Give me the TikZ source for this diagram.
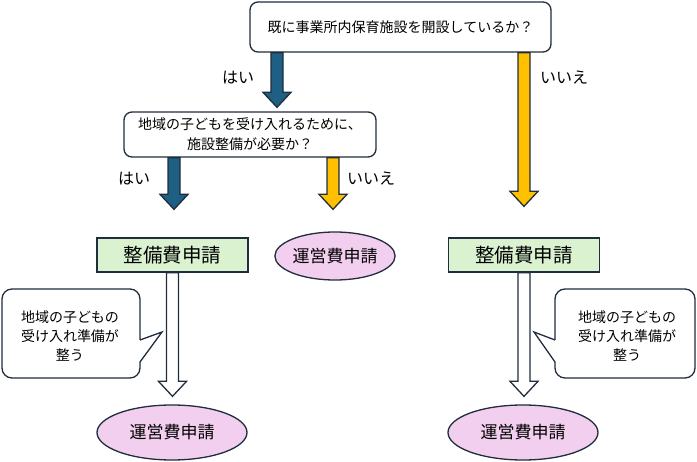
\documentclass[tikz,border=0pt]{standalone}
\usepackage{fontspec}
\setmainfont{Noto Sans CJK JP}
\usetikzlibrary{shapes.geometric,calc}

\definecolor{linecol}{HTML}{1F2D3D}
\definecolor{yesblue}{HTML}{1E5F84}
\definecolor{noyellow}{HTML}{FFC000}
\definecolor{applyfill}{HTML}{DAF2D0}
\definecolor{runfill}{HTML}{F2CEEF}

\tikzset{
    qbox/.style={draw=linecol, line width=1.3pt, rounded corners=8pt, fill=white,
        align=center, inner sep=0pt, font=\fontsize{14}{20}\selectfont},
    applybox/.style={draw=linecol, line width=1.3pt, fill=applyfill, inner sep=0pt,
        minimum width=151pt, minimum height=34pt, font=\fontsize{19.5}{22}\selectfont},
    runoval/.style={ellipse, draw=linecol, line width=1.3pt, fill=runfill, inner sep=0pt,
        font=\fontsize{17}{20}\selectfont},
    answer/.style={inner sep=0pt, font=\fontsize{16}{18}\selectfont},
    note/.style={align=center, inner sep=0pt, font=\fontsize{14}{19}\selectfont},
    notebox/.style={draw=linecol, line width=1.3pt, fill=white},
    arrowline/.style={draw=linecol, line width=1.3pt, line join=miter},
}

\begin{document}
\begin{tikzpicture}[x=1pt, y=-1pt]
    \useasboundingbox (0,0) rectangle (697,462);

    % fat arrow: fill, start, tip
    \def\fatarrow#1#2#3{%
        \filldraw[arrowline, fill=#1] let \p1=#2, \p2=#3 in
            (\x1-6pt,\y1) -- (\x1-6pt,\y2+15pt) -- (\x1-14pt,\y2+15pt) -- (\x1,\y2)
            -- (\x1+14pt,\y2+15pt) -- (\x1+6pt,\y2+15pt) -- (\x1+6pt,\y1) -- cycle;
    }

    % questions
    \node[qbox, minimum width=301pt, minimum height=50pt] (q1) at (400.5,27) {既に事業所内保育施設を開設しているか？};
    \node[qbox, minimum width=252pt, minimum height=45pt] (q2) at (250,134.5) {地域の子どもを受け入れるために、\\施設整備が必要か？};

    % applications
    \node[applybox] (g1) at (172.5,255) {整備費申請};
    \node[applybox] (g2) at (524,255) {整備費申請};
    \node[runoval, minimum width=120pt, minimum height=48pt] (e0) at (335,256) {運営費申請};
    \node[runoval, minimum width=150pt, minimum height=55pt] (e1) at (172,432.5) {運営費申請};
    \node[runoval, minimum width=150pt, minimum height=55pt] (e2) at (523,432.5) {運営費申請};

    % yes / no
    \fatarrow{yesblue}{(277,0 |- q1.south)}{($(277,0 |- q2.north)+(0,-4)$)}
    \fatarrow{noyellow}{(524,0 |- q1.south)}{($(g2.north)+(0,-31)$)}
    \fatarrow{yesblue}{(174,0 |- q2.south)}{($(174,0 |- g1.north)+(0,-28)$)}
    \fatarrow{noyellow}{(333,0 |- q2.south)}{($(333,0 |- e0.north)+(0,-22)$)}
    \node[answer] (yes1) at (238,78) {はい};
    \node[answer] (no1) at (564,78) {いいえ};
    \node[answer] (yes2) at (134,179) {はい};
    \node[answer] (no2) at (371,179) {いいえ};

    % then
    \fatarrow{white}{(g1.south)}{($(g1.south |- e1.north)+(0,-8)$)}
    \fatarrow{white}{(g2.south)}{($(g2.south |- e2.north)+(0,-8)$)}

    % callouts
    \draw[notebox] (140,340) -- (162,332) -- (140,362) [rounded corners=10pt]
        -- (140,378) -- (2,378) -- (2,289) -- (140,289) -- (140,340);
    \draw[notebox] (555,340) -- (534,332) -- (555,362) [rounded corners=10pt]
        -- (555,378) -- (695,378) -- (695,289) -- (555,289) -- (555,340);
    \node[note] (n1) at (70,336) {地域の子どもの\\受け入れ準備が\\整う};
    \node[note] (n2) at (627,336) {地域の子どもの\\受け入れ準備が\\整う};

\end{tikzpicture}
\end{document}
